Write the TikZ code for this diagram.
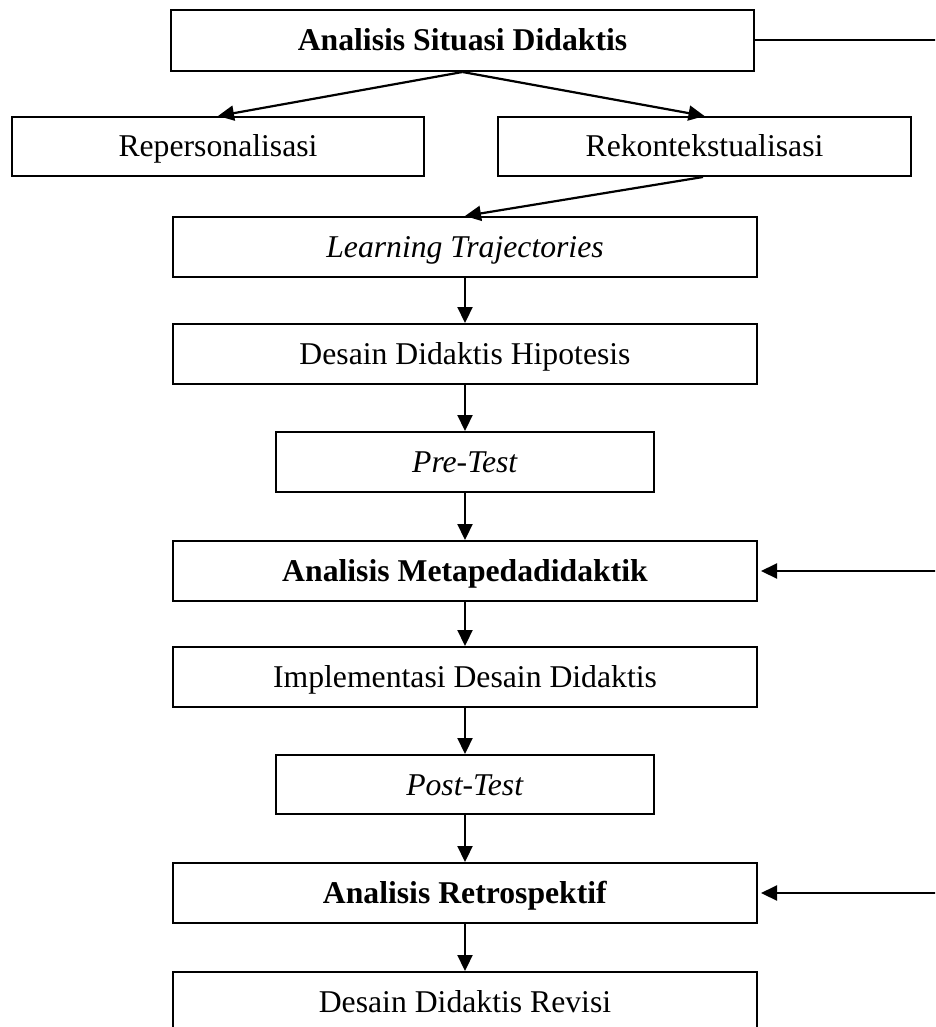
\documentclass[tikz,border=0pt]{standalone}
\usepackage{fontspec}
\setmainfont{Liberation Serif}
\usepackage{tikz}
\usetikzlibrary{arrows.meta}
\newcommand{\hurufbesar}{\fontsize{31.7}{38}\selectfont}
\tikzset{
  kotak/.style={draw,line width=2pt,rectangle,inner sep=0pt,
    minimum width=584pt,minimum height=60pt,font=\hurufbesar,
    text height=21pt,text depth=0pt},
  kotaksedang/.style={kotak,minimum width=412pt,minimum height=59pt},
  kotakkecil/.style={kotak,minimum width=378pt},
  panah/.style={line width=2.2pt,-{Triangle[length=16pt,width=15pt]}},
  garis/.style={line width=2pt}
}

\begin{document}
\begin{tikzpicture}[x=1pt,y=-1pt]
\useasboundingbox (0,0) rectangle (935,1027);
\clip (0,0) rectangle (935,1027);

\node[kotak,minimum width=583pt,minimum height=61pt] (situasi) at (462.5,40.5) {\textbf{Analisis Situasi Didaktis}};
\node[kotaksedang] (repersonal) at (218,146.5) {Repersonalisasi};
\node[kotaksedang,minimum width=413pt] (rekontekstual) at (704.5,146.5) {Rekontekstualisasi};
\node[kotak] (trajectories) at (465,247) {\textit{Learning Trajectories}};
\node[kotak] (hipotesis) at (465,354) {Desain Didaktis Hipotesis};
\node[kotakkecil] (pretest) at (465,462) {\textit{Pre-Test}};
\node[kotak] (metapeda) at (465,571) {\textbf{Analisis Metapedadidaktik}};
\node[kotak] (implementasi) at (465,677) {Implementasi Desain Didaktis};
\node[kotakkecil,minimum height=59pt] (posttest) at (465,784.5) {\textit{Post-Test}};
\node[kotak] (retrospektif) at (465,893) {\textbf{Analisis Retrospektif}};
\node[kotak] (revisi) at (465,1002) {Desain Didaktis Revisi};

\coordinate (kanansituasi) at (940,40.5);
\coordinate (kananmeta) at (940,571);
\coordinate (kananretro) at (940,893);

\draw[panah] (situasi.south) -- (repersonal.north);
\draw[panah] (situasi.south) -- (rekontekstual.north);
\draw[panah] ([xshift=-1.5pt]rekontekstual.south) -- (trajectories.north);
\draw[panah] (trajectories) -- (hipotesis);
\draw[panah] (hipotesis) -- (pretest);
\draw[panah] (pretest) -- (metapeda);
\draw[panah] (metapeda) -- (implementasi);
\draw[panah] (implementasi) -- (posttest);
\draw[panah] (posttest) -- (retrospektif);
\draw[panah] (retrospektif) -- (revisi);

\draw[garis] (situasi.east) -- (kanansituasi);
\draw[panah] (kananmeta) -- ([xshift=3pt]metapeda.east);
\draw[panah] (kananretro) -- ([xshift=3pt]retrospektif.east);
\end{tikzpicture}
\end{document}
